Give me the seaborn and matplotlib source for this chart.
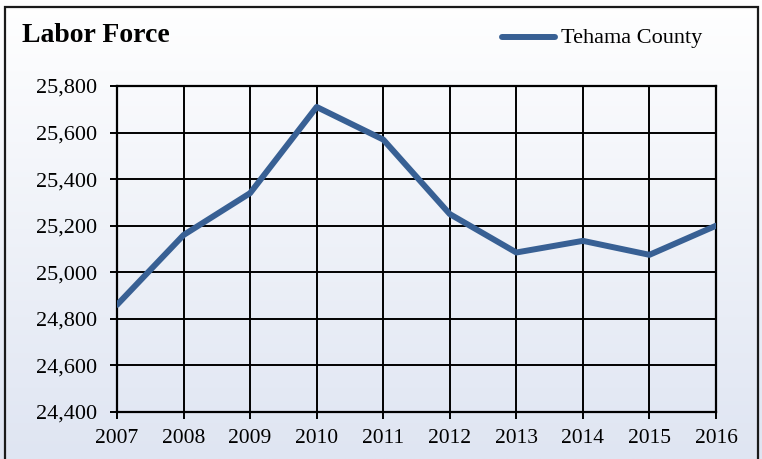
import numpy as np
import pandas as pd
import matplotlib
matplotlib.use("Agg")
import matplotlib.pyplot as plt
from matplotlib.patches import Rectangle
import seaborn as sns

# Values
years = [2007, 2008, 2009, 2010, 2011, 2012, 2013, 2014, 2015, 2016]
labor_force = [24860, 25160, 25340, 25710, 25570, 25250, 25085, 25135, 25075, 25200]
y_ticks = [24400, 24600, 24800, 25000, 25200, 25400, 25600, 25800]
series_name = "Tehama County"
title = "Labor Force"

sns.set_theme(style="white")
plt.rcParams["font.family"] = ["Liberation Serif", "DejaVu Serif"]

df = pd.DataFrame({"year": years, "value": labor_force, "series": series_name})

fig = plt.figure(figsize=(7.62, 4.59), dpi=100)

# gradient background for the whole chart area
bg = fig.add_axes([0, 0, 1, 1], zorder=-10)
grad = np.linspace(0, 1, 256).reshape(-1, 1)
top = np.array([1.0, 1.0, 1.0])
bottom = np.array([223, 229, 242]) / 255
img = top + (bottom - top) * grad[..., None]
img = np.repeat(img, 2, axis=1)
bg.imshow(img, aspect="auto", extent=[0, 1, 0, 1], origin="upper")
bg.set_xlim(0, 1)
bg.set_ylim(0, 1)
bg.axis("off")
bg.add_patch(Rectangle((5 / 762, -0.05), (758 - 5) / 762, 1.05 - 7 / 459,
                       fill=False, edgecolor="#1a1a1a", linewidth=1.6,
                       transform=fig.transFigure, clip_on=False))

ax = fig.add_axes([117 / 762, 1 - 412 / 459, (716 - 117) / 762, (412 - 86) / 459])
ax.patch.set_alpha(0)

sns.lineplot(data=df, x="year", y="value", hue="series", palette=["#386094"],
             linewidth=4.3, ax=ax, legend=False, solid_capstyle="round", zorder=5)

ax.set_xlim(2007, 2016)
ax.set_ylim(24400, 25800)
ax.set_xticks(years)
ax.set_yticks(y_ticks)
ax.set_yticklabels([f"{v:,}" for v in y_ticks])
ax.grid(True, color="black", linewidth=1.4)
ax.set_axisbelow(True)
for s in ax.spines.values():
    s.set_color("black")
    s.set_linewidth(1.6)
ax.tick_params(axis="both", direction="out", length=5, width=1.4, color="black",
               labelcolor="black")
ax.tick_params(axis="y", labelsize=16, pad=9)
ax.tick_params(axis="x", labelsize=15.5, pad=7)
ax.tick_params(left=True, bottom=True)
ax.set_xlabel("")
ax.set_ylabel("")

fig.text(22 / 762, 1 - 36 / 459, title, fontsize=20, fontweight="bold",
         va="center", ha="left", color="black")

# legend
fig.add_artist(plt.Line2D([502 / 762, 555 / 762], [1 - 37 / 459, 1 - 37 / 459],
                          color="#386094", linewidth=4.3, solid_capstyle="round"))
fig.text(561 / 762, 1 - 38 / 459, series_name, fontsize=16, va="center",
         ha="left", color="black")

fig.savefig("out.png", dpi=100)
